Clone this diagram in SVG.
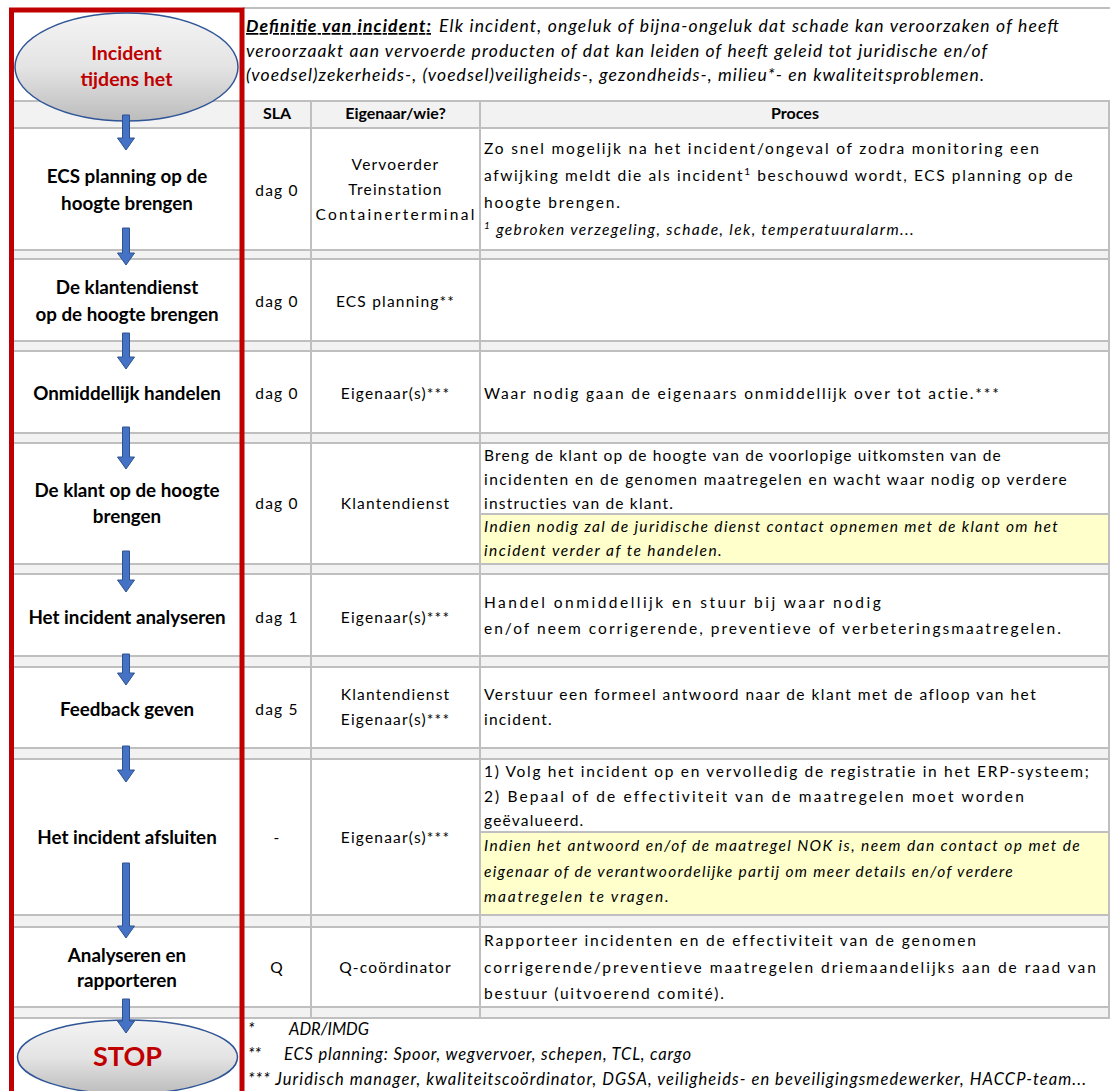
<svg xmlns="http://www.w3.org/2000/svg" width="1110" height="1091" viewBox="0 0 1110 1091">
<defs>
<linearGradient id="eg" x1="0" y1="0" x2="0" y2="1">
<stop offset="0" stop-color="#f4f4f4"/>
<stop offset="0.5" stop-color="#e4e4e4"/>
<stop offset="1" stop-color="#bcbcbc"/>
</linearGradient>
<style>
.gl{stroke:#bfbfbf;stroke-width:2;fill:none}
.band{fill:#f2f2f2}
.yel{fill:#ffffcc}
.step{font-family:Lato,"Liberation Sans",sans-serif;font-weight:700;font-size:18.8px;fill:#000;text-anchor:middle}
.cell{font-family:Lato,"Liberation Sans",sans-serif;font-size:15.5px;letter-spacing:1.2px;fill:#000;text-anchor:middle}
.proc{font-family:Lato,"Liberation Sans",sans-serif;font-size:15.5px;letter-spacing:1.2px;fill:#000}
.it{font-style:italic;letter-spacing:0.3px}
.hdr{font-family:Lato,"Liberation Sans",sans-serif;font-weight:700;font-size:16px;fill:#000;text-anchor:middle}
.def{font-family:Lato,"Liberation Sans",sans-serif;font-style:italic;font-size:17.5px;fill:#000}
.fn{font-family:Lato,"Liberation Sans",sans-serif;font-style:italic;font-size:16.5px;fill:#000}
.red{font-family:Lato,"Liberation Sans",sans-serif;font-weight:700;fill:#c00000;text-anchor:middle}
.ell{fill:url(#eg);stroke:#2f5597;stroke-width:1.5}
.arr{fill:#4472c4;stroke:#2f528f;stroke-width:1}
</style>
</defs>
<rect width="1110" height="1091" fill="#ffffff"/>

<g id="grid">
<rect class="band" x="14" y="101" width="1096" height="27"/>
<rect class="band" x="14" y="250" width="1096" height="9"/>
<rect class="band" x="14" y="341" width="1096" height="10"/>
<rect class="band" x="14" y="433" width="1096" height="10"/>
<rect class="band" x="14" y="564" width="1096" height="10"/>
<rect class="band" x="14" y="656" width="1096" height="11"/>
<rect class="band" x="14" y="748" width="1096" height="11"/>
<rect class="band" x="14" y="915" width="1096" height="12"/>
<rect class="band" x="14" y="1007" width="1096" height="11"/>
<rect class="yel" x="481" y="514" width="627" height="50"/>
<rect class="yel" x="481" y="832" width="627" height="83"/>
<path class="gl" d="M243 8H1110 M14 101H1110 M14 128H1110 M14 250H1110 M14 259H1110 M14 341H1110 M14 351H1110 M14 433H1110 M14 443H1110 M14 564H1110 M14 574H1110 M14 656H1110 M14 667H1110 M14 748H1110 M14 759H1110 M14 915H1110 M14 927H1110 M14 1007H1110 M14 1018H1110 M481 514H1110 M481 832H1110"/>
<path class="gl" d="M311 101V1018 M480 101V1018 M1109 101V1018"/>
</g>

<g id="definition">
<text class="def" x="246" y="32"><tspan font-weight="700" text-decoration="underline" textLength="185">Definitie van incident:</tspan></text>
<text class="def" x="439" y="32" textLength="620">Elk incident, ongeluk of bijna-ongeluk dat schade kan veroorzaken of heeft</text>
<text class="def" x="246" y="57" textLength="741">veroorzaakt aan vervoerde producten of dat kan leiden of heeft geleid tot juridische en/of</text>
<text class="def" x="246" y="81" textLength="738">(voedsel)zekerheids-, (voedsel)veiligheids-, gezondheids-, milieu*- en kwaliteitsproblemen.</text>
</g>

<g id="header">
<text class="hdr" x="277" y="119">SLA</text>
<text class="hdr" x="395.5" y="119">Eigenaar/wie?</text>
<text class="hdr" x="795" y="119">Proces</text>
</g>

<g id="row1">
<text class="cell" x="277" y="196">dag 0</text>
<text class="cell" x="395.5" y="170">Vervoerder</text>
<text class="cell" x="395.5" y="195">Treinstation</text>
<text class="cell" x="395.5" y="220" textLength="160">Containerterminal</text>
<text class="proc" x="484" y="154" textLength="556">Zo snel mogelijk na het incident/ongeval of zodra monitoring een</text>
<text class="proc" x="484" y="181" textLength="590">afwijking meldt die als incident<tspan font-size="10" dy="-6">1</tspan><tspan dy="6"> beschouwd wordt, ECS planning op de</tspan></text>
<text class="proc" x="484" y="208" textLength="137">hoogte brengen.</text>
<text class="proc it" x="484" y="235" textLength="430"><tspan font-size="10" dy="-6">1</tspan><tspan dy="6">  gebroken verzegeling, schade, lek, temperatuuralarm...</tspan></text>
</g>

<g id="row2">
<text class="cell" x="277" y="307">dag 0</text>
<text class="cell" x="395.5" y="307">ECS planning**</text>
</g>

<g id="row3">
<text class="cell" x="277" y="399">dag 0</text>
<text class="cell" x="395.5" y="399">Eigenaar(s)***</text>
<text class="proc" x="484" y="399" textLength="516">Waar nodig gaan de eigenaars onmiddellijk over tot actie.***</text>
</g>

<g id="row4">
<text class="cell" x="277" y="509">dag 0</text>
<text class="cell" x="395.5" y="509">Klantendienst</text>
<text class="proc" x="484" y="461" textLength="518">Breng de klant op de hoogte van de voorlopige uitkomsten van de</text>
<text class="proc" x="484" y="485" textLength="584">incidenten en de genomen maatregelen en wacht waar nodig op verdere</text>
<text class="proc" x="484" y="509">instructies van de klant.</text>
<text class="proc it" x="484" y="532" textLength="574">Indien nodig zal de juridische dienst contact opnemen met de klant om het</text>
<text class="proc it" x="484" y="556" textLength="238">incident verder af te handelen.</text>
</g>

<g id="row5">
<text class="cell" x="277" y="623">dag 1</text>
<text class="cell" x="395.5" y="623">Eigenaar(s)***</text>
<text class="proc" x="484" y="608" textLength="398">Handel onmiddellijk en stuur bij waar nodig</text>
<text class="proc" x="484" y="634" textLength="578">en/of neem corrigerende, preventieve of verbeteringsmaatregelen.</text>
</g>

<g id="row6">
<text class="cell" x="277" y="715">dag 5</text>
<text class="cell" x="395.5" y="700">Klantendienst</text>
<text class="cell" x="395.5" y="725">Eigenaar(s)***</text>
<text class="proc" x="484" y="700" textLength="553">Verstuur een formeel antwoord naar de klant met de afloop van het</text>
<text class="proc" x="484" y="725">incident.</text>
</g>

<g id="row7">
<text class="cell" x="277" y="843">-</text>
<text class="cell" x="395.5" y="843">Eigenaar(s)***</text>
<text class="proc" x="484" y="777" textLength="606">1) Volg het incident op en vervolledig de registratie in het ERP-systeem;</text>
<text class="proc" x="484" y="802" textLength="541">2) Bepaal of de effectiviteit van de maatregelen moet worden</text>
<text class="proc" x="484" y="826">geëvalueerd.</text>
<text class="proc it" x="484" y="851" textLength="596">Indien het antwoord en/of de maatregel NOK is, neem dan contact op met de</text>
<text class="proc it" x="484" y="877" textLength="529">eigenaar of de verantwoordelijke partij om meer details en/of verdere</text>
<text class="proc it" x="484" y="902" textLength="185">maatregelen te vragen.</text>
</g>

<g id="row8">
<text class="cell" x="277" y="973">Q</text>
<text class="cell" x="395.5" y="973">Q-coördinator</text>
<text class="proc" x="484" y="946" textLength="493">Rapporteer incidenten en de effectiviteit van de genomen</text>
<text class="proc" x="484" y="973" textLength="613">corrigerende/preventieve maatregelen driemaandelijks aan de raad van</text>
<text class="proc" x="484" y="999" textLength="241">bestuur (uitvoerend comité).</text>
</g>

<g id="footnotes">
<text class="fn" x="248" y="1035">*</text>
<text class="fn" x="289" y="1035" textLength="80">ADR/IMDG</text>
<text class="fn" x="248" y="1060">**</text>
<text class="fn" x="284" y="1060" textLength="407">ECS planning:  Spoor, wegvervoer, schepen, TCL, cargo</text>
<text class="fn" x="248" y="1085" textLength="838">*** Juridisch manager, kwaliteitscoördinator, DGSA, veiligheids- en beveiligingsmedewerker, HACCP-team...</text>
</g>

<rect id="lane" x="11.5" y="10" width="230.5" height="1100" fill="none" stroke="#c00000" stroke-width="5"/>

<g id="start">
<ellipse class="ell" cx="126.5" cy="67" rx="111.5" ry="54"/>
<text class="red" x="126.5" y="60" font-size="19.5">Incident</text>
<text class="red" x="126.5" y="86" font-size="19.5">tijdens het</text>
</g>
<g id="step1"><text class="step" x="127" y="183">ECS planning op de</text><text class="step" x="127" y="210">hoogte brengen</text></g>
<g id="step2"><text class="step" x="127" y="294">De klantendienst</text><text class="step" x="127" y="321">op de hoogte brengen</text></g>
<g id="step3"><text class="step" x="127" y="400">Onmiddellijk handelen</text></g>
<g id="step4"><text class="step" x="127" y="497">De klant op de hoogte</text><text class="step" x="127" y="523">brengen</text></g>
<g id="step5"><text class="step" x="127" y="624">Het incident analyseren</text></g>
<g id="step6"><text class="step" x="127" y="716">Feedback geven</text></g>
<g id="step7"><text class="step" x="127" y="844">Het incident afsluiten</text></g>
<g id="step8"><text class="step" x="127" y="962">Analyseren en</text><text class="step" x="127" y="987">rapporteren</text></g>
<g id="stop">
<ellipse class="ell" cx="127.5" cy="1057" rx="110" ry="37"/>
<text class="red" x="127.5" y="1066" font-size="27">STOP</text>
</g>

<g id="connectors">
<path class="arr" d="M122.5 115H129.5V138H134.5L126 150L117.5 138H122.5Z"/>
<path class="arr" d="M122.5 228H129.5V253H134.5L126 265L117.5 253H122.5Z"/>
<path class="arr" d="M122.5 333H129.5V357H134.5L126 369L117.5 357H122.5Z"/>
<path class="arr" d="M122.5 427H129.5V457H134.5L126 469L117.5 457H122.5Z"/>
<path class="arr" d="M122.5 551H129.5V580H134.5L126 592L117.5 580H122.5Z"/>
<path class="arr" d="M122.5 654H129.5V673H134.5L126 685L117.5 673H122.5Z"/>
<path class="arr" d="M122.5 746H129.5V770H134.5L126 782L117.5 770H122.5Z"/>
<path class="arr" d="M122.5 863H129.5V926H134.5L126 938L117.5 926H122.5Z"/>
<path class="arr" d="M122.5 999H129.5V1021H134.5L126 1033L117.5 1021H122.5Z"/>
</g>
</svg>
